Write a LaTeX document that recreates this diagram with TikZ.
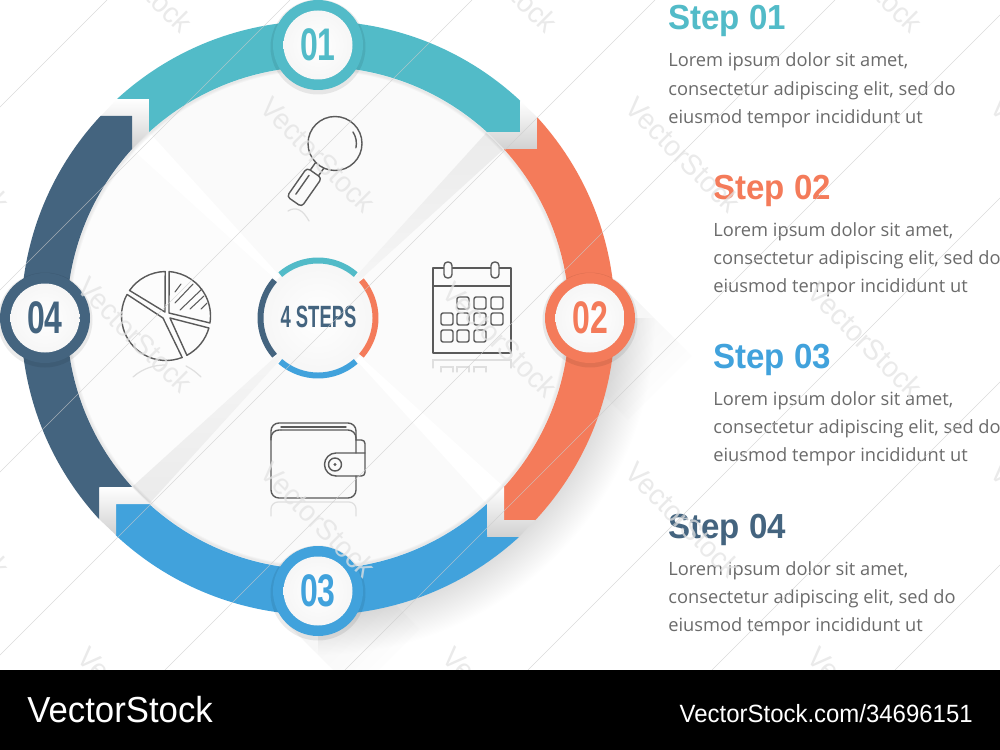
\documentclass[tikz,border=0pt]{standalone}
\usepackage{fontspec}
\usetikzlibrary{fadings}
\setmainfont{Open Sans}
\newfontfamily\headfont[FakeStretch=0.95]{Liberation Sans}
\newfontfamily\numfont[FakeStretch=0.7]{Liberation Sans}
\newfontfamily\centrefont[FakeStretch=0.6]{Liberation Sans}
\newfontfamily\markfont[FakeStretch=0.96]{Liberation Sans}
\definecolor{stepa}{HTML}{52BBC8}
\definecolor{stepb}{HTML}{F47B5A}
\definecolor{stepc}{HTML}{41A2DC}
\definecolor{stepd}{HTML}{44647F}
\definecolor{iconline}{HTML}{5A5A5A}
\definecolor{bodytext}{HTML}{6B6B6B}
\pgfdeclareradialshading{ringshadow}{\pgfpoint{0bp}{0bp}}{color(0bp)=(gray!26); color(22bp)=(gray!26); color(25bp)=(white); color(50bp)=(white)}
\tikzset{
  icon/.style={draw=iconline, line width=0.8pt, line join=round, line cap=round},
  mirror/.style={draw=gray!25, line width=0.7pt, line cap=round},
  stephead/.style={anchor=base west, inner sep=0pt, font=\headfont\fontsize{19.8}{22}\selectfont\bfseries},
  stepbody/.style={anchor=base west, inner sep=0pt, text=bodytext, font=\fontsize{10.4}{15.9}\selectfont},
  stepnum/.style={font=\numfont\fontsize{26}{28}\selectfont\bfseries},
  wmline/.style={draw=gray!40, line width=0.25pt, opacity=0.7},
  wmtext/.style={rotate=-45, text=gray!22, opacity=0.75, font=\markfont\fontsize{16.5}{18}\selectfont},
}

\begin{document}
\begin{tikzpicture}[x=0.02cm, y=0.02cm]
    \useasboundingbox (0,-750) rectangle (1000,0);
    \fill[white] (0,-750) rectangle (1000,0);

    % ring shadow, lower right
    \begin{scope}
        \clip (318,-318) -- (700,-318) -- (700,-700) -- (318,-700) -- cycle;
        \shade[shading=ringshadow] (318,-318) circle (337);
    \end{scope}

    % long shadows of the circles
    \fill[black, opacity=0.05, path fading=east, fading angle=-45]
        (622,-286) -- (692,-356) -- (628,-420) -- (558,-350) -- cycle;
    \fill[black, opacity=0.05, path fading=east, fading angle=-45]
        (350,-559) -- (420,-629) -- (356,-693) -- (286,-623) -- cycle;

    % disc and its four sectors
    \fill[gray!3] (318,-318) circle (252);
    \begin{scope}[shift={(318,-318)}]
        \clip (0,0) circle (250);
        \fill[gray!4] (0,0) -- (-260,260) -- (260,260) -- cycle;
        \fill[gray!3] (0,0) -- (260,260) -- (260,-260) -- cycle;
        \fill[gray!4] (0,0) -- (260,-260) -- (-260,-260) -- cycle;
        \fill[gray!2] (0,0) -- (-260,-260) -- (-260,260) -- cycle;
        % white diagonal
        \fill[white] (0,0) -- (-186,169) -- (-169,186) -- cycle;
        \fill[white] (0,0) -- (186,-169) -- (169,-186) -- cycle;
        % grey diagonal
        \shade[shading angle=-45, bottom color=gray!6, top color=gray!16]
            (0,0) -- (169,186) -- (186,169) -- cycle;
        \shade[shading angle=-45, bottom color=gray!16, top color=gray!6]
            (0,0) -- (-169,-186) -- (-186,-169) -- cycle;
    \end{scope}
    \foreach \lw in {3pt, 2pt, 1pt}
        \draw[black, opacity=0.025, line width=\lw] (318,-318) circle (250);

    % the four arrows, with the fold behind each tail
    \foreach \col/\ang in {stepa/0, stepb/-90, stepc/-180, stepd/-270} {
        \begin{scope}[shift={(318,-318)}, rotate=\ang]
            \shade[shading angle=45+\ang, top color=white, bottom color=gray!36]
                (-201,219) -- (-169,219) -- (-169,186) -- (-186,169) -- (-186,202) -- (-217,202) -- cycle;
            \fill[\col] (-201,219) arc[start angle=132.5, end angle=47, radius=297]
                -- (202,186) -- (169,186) arc[start angle=47.7, end angle=132.3, radius=251]
                -- (-169,219) -- cycle;
        \end{scope}
    }

    % numbered circles
    \foreach \nm/\col/\px/\py/\lbl in {a/stepa/318/45/01, b/stepb/590/318/02, c/stepc/318/591/03, d/stepd/45/318/04} {
        \fill[black, opacity=0.08] (\px,-\py-2) circle (47.5);
        \fill[\col] (\px,-\py) circle (45);
        \shade[inner color=white, outer color=gray!7] (\px,-\py) circle (34.5);
        \node[stepnum, text=\col] (num\nm) at (\px,-\py) {\lbl};
    }

    % magnifier
    \draw[icon] (335,-143.5) circle (27);
    \draw[icon] (353,-132) arc[start angle=33, end angle=-12, radius=21];
    \begin{scope}[shift={(335,-143.5)}, rotate=-125]
        \draw[icon] (27,-5) -- (36,-5) (27,5) -- (36,5);
        \draw[icon, rounded corners=2] (36,-9) -- (71,-9) -- (71,9) -- (36,9) -- cycle;
        \draw[icon] (41,-3) -- (64,-3);
    \end{scope}
    \draw[mirror] (288,-211) .. controls (296,-206) and (303,-210) .. (309,-221);

    % calendar
    \draw[icon] (433,-353) rectangle (511,-268);
    \draw[icon] (433,-286) -- (511,-286);
    \foreach \rx in {448,495}
        \draw[icon, fill=gray!3, rounded corners=2] (\rx-4,-278) rectangle (\rx+4,-262);
    \foreach \cx/\cy in {463/303, 480/303, 497/303, 447/319, 463/319, 480/319, 497/319, 447/336, 463/336, 480/336}
        \draw[icon, rounded corners=1.2] (\cx-6,-\cy-6) rectangle (\cx+6,-\cy+6);
    \foreach \cx in {447,463,480}
        \draw[mirror] (\cx-6,-372) -- (\cx-6,-367) -- (\cx+6,-367) -- (\cx+6,-372);
    \draw[mirror] (433,-368) -- (433,-360) -- (511,-360) -- (511,-368);

    % wallet
    \draw[icon, rounded corners=4.5] (281,-430) -- (271,-430) -- (271,-498) -- (356,-498) -- (356,-476);
    \draw[icon, rounded corners=4.5] (356,-453) -- (356,-430) -- (281,-430);
    \draw[icon, rounded corners=4.5] (271,-440) -- (271,-423) -- (356,-423) -- (356,-440);
    \draw[icon] (281,-427) -- (346,-427);
    \draw[icon, rounded corners=2] (356,-440) -- (365,-440) -- (365,-476) -- (336,-476);
    \draw[icon] (336,-476) arc[start angle=270, end angle=90, radius=11.5] -- (365,-453);
    \draw[icon] (335,-464.5) circle (6.5);
    \fill[iconline] (335,-464.5) circle (1.7);
    \draw[mirror, rounded corners=4] (271,-516) -- (271,-502) -- (356,-502) -- (356,-516);

    % pie chart
    \begin{scope}[shift={(166,-316)}]
        \draw[icon] (91:44.5) arc[start angle=91, end angle=145, radius=44.5] -- (-1,4) -- cycle;
        \draw[icon] (86:44.5) arc[start angle=86, end angle=-9, radius=44.5] -- (3,3) -- cycle;
        \draw[icon] (-15.6:44.5) arc[start angle=-15.6, end angle=-62, radius=44.5] -- (4,-2) -- cycle;
        \draw[icon] (151:44.5) arc[start angle=151, end angle=291.3, radius=44.5] -- (-3,-2) -- cycle;
        \foreach \ha/\hb/\hc/\hd in {9/24/15/32, 9/13/27/32, 14/6/36/27, 24/7/38/20, 35/7/41/13}
            \draw[icon, line width=0.6pt] (\ha,\hb) -- (\hc,\hd);
    \end{scope}
    \draw[mirror] (133,-377) .. controls (143,-368) and (155,-365) .. (165,-365);
    \draw[mirror] (186,-366) .. controls (192,-369) and (197,-373) .. (201,-377);

    % centre ring
    \shade[inner color=white, outer color=gray!7] (318,-318) circle (56);
    \foreach \col/\ang in {stepa/90, stepb/0, stepc/-90, stepd/180}
        \draw[\col, line width=3.4pt] (318,-318) ++(\ang+41:57.5)
            arc[start angle=\ang+41, end angle=\ang-41, radius=57.5];
    \node[text=stepd, font=\centrefont\fontsize{17.5}{20}\selectfont\bfseries] (centre) at (318.5,-317) {4 STEPS};

    % step texts
    \foreach \nm/\col/\px/\py/\lbl in {a/stepa/668/30/01, b/stepb/713/199/02, c/stepc/713/368.5/03, d/stepd/668/538/04} {
        \node[stephead, text=\col] (head\nm) at (\px,-\py) {Step \lbl};
        \node[stepbody] (linea\nm) at (\px,-\py-37) {Lorem ipsum dolor sit amet,};
        \node[stepbody] (lineb\nm) at (\px,-\py-65) {consectetur adipiscing elit, sed do};
        \node[stepbody] (linec\nm) at (\px,-\py-93) {eiusmod tempor incididunt ut};
    }

    % watermark
    \begin{scope}
        \clip (0,-670) rectangle (1000,0);
        \foreach \ss in {107,290,472,655,835,1015,1198,1382,1565}
            \draw[wmline] (\ss,0) -- (\ss-670,-670);
        \foreach \wx/\wy in {-48/155, 135/335, 318/155, 500/340, 683/155, 865/340, 318/520, 683/520, -48/520, 135/-25, 500/-25, 865/-25, 135/705, 500/705, 865/705, 1048/155, 1048/520}
            \node[wmtext] at (\wx,-\wy) {VectorStock};
    \end{scope}

    % bottom bar
    \fill[black] (0,-750) rectangle (1000,-670);
    \node[anchor=base west, inner sep=0pt, text=white, font=\markfont\fontsize{20.6}{22}\selectfont] (brand) at (27,-722) {VectorStock};
    \node[anchor=base east, inner sep=0pt, text=white, font=\markfont\fontsize{14.2}{16}\selectfont] (link) at (973,-722) {VectorStock.com/34696151};
\end{tikzpicture}
\end{document}
